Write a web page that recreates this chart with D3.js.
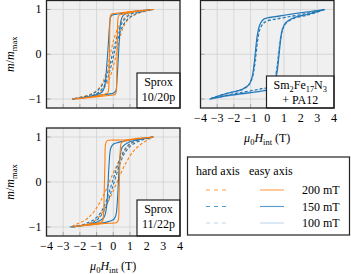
<!DOCTYPE html>
<html>
<head>
<meta charset="utf-8">
<script src="https://cdn.jsdelivr.net/npm/d3@7.9.0/dist/d3.min.js"></script>
<style>
  body { margin: 0; background: #fff; }
  svg text { font-family: "Liberation Serif", "DejaVu Serif", "Times New Roman", serif; }
</style>
</head>
<body>
<svg id="chart" width="351" height="274" font-family="Liberation Serif, DejaVu Serif, serif"></svg>
<script>
// tick values
const xTicks = [-4, -3, -2, -1, 0, 1, 2, 3, 4];
const yTicks = [-1, 0, 1];
const fieldLabels = ["200 mT", "150 mT", "100 mT"];

// loops: [mu0 H_int (T), m/m_max], down branch then up branch
const sprox1020Easy200 = [[2.4, 1.0], [1.5, 0.97], [0.8, 0.94], [0.3, 0.92], [0.0, 0.91], [-0.14, 0.89], [-0.19, 0.8], [-0.21, 0.4], [-0.23, 0.0], [-0.25, -0.4], [-0.27, -0.75], [-0.33, -0.86], [-0.6, -0.9], [-1.3, -0.95], [-2.45, -1.0],
  [-1.5, -0.97], [-0.8, -0.94], [-0.3, -0.92], [0.0, -0.91], [0.14, -0.89], [0.19, -0.8], [0.21, -0.4], [0.23, 0.0], [0.25, 0.4], [0.27, 0.75], [0.33, 0.86], [0.6, 0.9], [1.3, 0.95], [2.4, 1.0]];
const sprox1020Easy150 = [[2.4, 1.0], [1.5, 0.97], [0.8, 0.93], [0.3, 0.9], [0.0, 0.88], [-0.15, 0.84], [-0.22, 0.65], [-0.3, 0.2], [-0.4, -0.3], [-0.5, -0.68], [-0.65, -0.84], [-1.0, -0.9], [-1.6, -0.95], [-2.45, -1.0],
  [-1.6, -0.96], [-0.9, -0.92], [-0.3, -0.89], [0.0, -0.87], [0.15, -0.82], [0.22, -0.6], [0.3, -0.1], [0.38, 0.4], [0.46, 0.75], [0.6, 0.87], [1.0, 0.93], [1.6, 0.97], [2.4, 1.0]];
const sprox1020Hard200 = [[2.4, 1.0], [1.6, 0.96], [1.0, 0.9], [0.6, 0.78], [0.3, 0.6], [0.05, 0.35], [-0.15, 0.05], [-0.35, -0.3], [-0.6, -0.6], [-0.9, -0.78], [-1.4, -0.9], [-2.45, -1.0],
  [-1.6, -0.96], [-1.0, -0.9], [-0.6, -0.78], [-0.3, -0.6], [-0.05, -0.35], [0.15, -0.05], [0.35, 0.3], [0.6, 0.6], [0.9, 0.78], [1.4, 0.9], [2.4, 1.0]];
const sprox1020Hard150 = [[2.4, 1.0], [1.6, 0.96], [1.0, 0.88], [0.6, 0.74], [0.35, 0.55], [0.15, 0.3], [-0.05, 0.0], [-0.25, -0.3], [-0.5, -0.58], [-0.85, -0.78], [-1.4, -0.91], [-2.45, -1.0],
  [-1.6, -0.96], [-1.0, -0.88], [-0.6, -0.74], [-0.35, -0.55], [-0.15, -0.3], [0.05, 0.0], [0.25, 0.3], [0.5, 0.58], [0.85, 0.78], [1.4, 0.91], [2.4, 1.0]];

const smfeEasy150 = [[3.45, 1.0], [2.5, 0.95], [1.5, 0.9], [0.5, 0.84], [0.0, 0.81], [-0.25, 0.77], [-0.45, 0.66], [-0.6, 0.42], [-0.7, 0.1], [-0.8, -0.25], [-0.92, -0.52], [-1.1, -0.68], [-1.5, -0.78], [-2.5, -0.88], [-3.45, -1.0],
  [-2.5, -0.93], [-1.5, -0.88], [-0.5, -0.83], [0.0, -0.8], [0.25, -0.75], [0.45, -0.62], [0.6, -0.38], [0.7, -0.05], [0.8, 0.3], [0.92, 0.56], [1.1, 0.7], [1.5, 0.8], [2.5, 0.9], [3.45, 1.0]];
const smfeEasy100 = [[3.45, 1.0], [2.5, 0.95], [1.5, 0.9], [0.5, 0.85], [0.0, 0.82], [-0.25, 0.78], [-0.43, 0.67], [-0.57, 0.42], [-0.67, 0.1], [-0.77, -0.25], [-0.9, -0.53], [-1.1, -0.69], [-1.5, -0.79], [-2.5, -0.89], [-3.45, -1.0],
  [-2.5, -0.94], [-1.5, -0.89], [-0.5, -0.84], [0.0, -0.81], [0.25, -0.76], [0.43, -0.63], [0.57, -0.38], [0.67, -0.05], [0.77, 0.3], [0.9, 0.57], [1.1, 0.71], [1.5, 0.81], [2.5, 0.91], [3.45, 1.0]];
const smfeHard150 = [[3.45, 1.0], [2.5, 0.92], [1.5, 0.85], [0.5, 0.78], [0.0, 0.74], [-0.25, 0.68], [-0.45, 0.55], [-0.58, 0.3], [-0.68, 0.0], [-0.78, -0.3], [-0.92, -0.55], [-1.15, -0.7], [-1.6, -0.8], [-2.5, -0.88], [-3.45, -1.0],
  [-2.5, -0.92], [-1.5, -0.85], [-0.5, -0.78], [0.0, -0.74], [0.25, -0.68], [0.45, -0.55], [0.58, -0.3], [0.68, 0.0], [0.78, 0.3], [0.92, 0.55], [1.15, 0.7], [1.6, 0.8], [2.5, 0.88], [3.45, 1.0]];
const smfeHard100 = [[3.45, 1.0], [2.5, 0.93], [1.5, 0.86], [0.5, 0.8], [0.0, 0.76], [-0.25, 0.7], [-0.43, 0.57], [-0.56, 0.32], [-0.65, 0.0], [-0.75, -0.3], [-0.9, -0.56], [-1.15, -0.72], [-1.6, -0.82], [-2.5, -0.9], [-3.45, -1.0],
  [-2.5, -0.93], [-1.5, -0.86], [-0.5, -0.8], [0.0, -0.76], [0.25, -0.7], [0.43, -0.57], [0.56, -0.32], [0.65, 0.0], [0.75, 0.3], [0.9, 0.56], [1.15, 0.72], [1.6, 0.82], [2.5, 0.9], [3.45, 1.0]];

const sprox1122Easy200 = [[2.4, 1.0], [1.5, 0.97], [0.8, 0.94], [0.2, 0.93], [-0.35, 0.92], [-0.45, 0.86], [-0.5, 0.4], [-0.54, -0.2], [-0.58, -0.7], [-0.64, -0.87], [-0.9, -0.91], [-1.5, -0.94], [-2.45, -1.0],
  [-1.5, -0.96], [-0.5, -0.92], [0.2, -0.9], [0.3, -0.85], [0.34, -0.4], [0.38, 0.2], [0.42, 0.7], [0.5, 0.88], [0.9, 0.93], [1.5, 0.96], [2.4, 1.0]];
const sprox1122Easy150 = [[2.4, 1.0], [1.5, 0.96], [0.8, 0.92], [0.3, 0.88], [0.0, 0.84], [-0.15, 0.75], [-0.25, 0.4], [-0.32, -0.1], [-0.4, -0.55], [-0.55, -0.78], [-0.9, -0.88], [-1.6, -0.95], [-2.6, -1.0],
  [-1.6, -0.96], [-0.8, -0.92], [-0.3, -0.88], [0.0, -0.84], [0.15, -0.75], [0.25, -0.4], [0.32, 0.1], [0.4, 0.55], [0.55, 0.78], [0.9, 0.88], [1.6, 0.95], [2.4, 1.0]];
const sprox1122Hard200 = [[2.4, 1.0], [1.7, 0.95], [1.2, 0.88], [0.8, 0.75], [0.4, 0.5], [0.0, 0.2], [-0.4, -0.15], [-0.8, -0.45], [-1.2, -0.68], [-1.7, -0.85], [-2.45, -0.98],
  [-1.7, -0.95], [-1.2, -0.88], [-0.8, -0.75], [-0.4, -0.5], [0.0, -0.2], [0.4, 0.15], [0.8, 0.45], [1.2, 0.68], [1.7, 0.85], [2.4, 1.0]];
const sprox1122Hard150 = [[2.4, 1.0], [1.5, 0.94], [0.9, 0.82], [0.5, 0.6], [0.2, 0.3], [-0.1, -0.05], [-0.4, -0.4], [-0.7, -0.65], [-1.1, -0.82], [-1.7, -0.93], [-2.5, -1.0],
  [-1.5, -0.94], [-0.9, -0.82], [-0.5, -0.6], [-0.2, -0.3], [0.1, 0.05], [0.4, 0.4], [0.7, 0.65], [1.1, 0.82], [1.7, 0.93], [2.4, 1.0]];

const colors = { "200 mT": "#ff7f0e", "150 mT": "#1f77b4", "100 mT": "#aec7e8" };
const serif = "Liberation Serif, DejaVu Serif, serif";

const panels = [
  { left: 46.5, right: 180, top: 0.5, bottom: 108, xLabels: false, yLabels: true,
    box: { x: 137, y: 73, lines: [["Sprox"], ["10/20p"]] },
    curves: [
      { data: sprox1020Hard200, field: "200 mT", dashed: true },
      { data: sprox1020Hard150, field: "150 mT", dashed: true },
      { data: sprox1020Easy150, field: "150 mT", dashed: false },
      { data: sprox1020Easy200, field: "200 mT", dashed: false }
    ] },
  { left: 200.5, right: 334, top: 0.5, bottom: 108, xLabels: true, yLabels: false,
    box: { x: 266.5, y: 76, lines: [["Sm", "2", "Fe", "17", "N", "3"], ["+ PA12"]] },
    curves: [
      { data: smfeHard100, field: "100 mT", dashed: true },
      { data: smfeEasy100, field: "100 mT", dashed: false },
      { data: smfeHard150, field: "150 mT", dashed: true },
      { data: smfeEasy150, field: "150 mT", dashed: false }
    ] },
  { left: 46.5, right: 180, top: 128, bottom: 236, xLabels: true, yLabels: true,
    box: { x: 137, y: 200, lines: [["Sprox"], ["11/22p"]] },
    curves: [
      { data: sprox1122Hard200, field: "200 mT", dashed: true },
      { data: sprox1122Hard150, field: "150 mT", dashed: true },
      { data: sprox1122Easy150, field: "150 mT", dashed: false },
      { data: sprox1122Easy200, field: "200 mT", dashed: false }
    ] }
];

const svg = d3.select("#chart");
const fmt = (t) => (t < 0 ? "\u2212" + Math.abs(t) : String(t));

// writes text pieces, odd entries as subscripts
function subText(text, parts, size) {
  let down = false;
  parts.forEach((p, i) => {
    const sub = i % 2 === 1;
    const ts = text.append("tspan").text(p);
    if (sub) { ts.attr("dy", 3).attr("font-size", size * 0.7); down = true; }
    else if (down) { ts.attr("dy", -3); down = false; }
  });
}

panels.forEach((p, pi) => {
  const x = d3.scaleLinear().domain([-4, 4]).range([p.left, p.right]);
  const y = d3.scaleLinear().domain([-1.2, 1.2]).range([p.bottom, p.top]);
  const g = svg.append("g").attr("font-family", serif);

  g.append("rect")
    .attr("x", p.left).attr("y", p.top)
    .attr("width", p.right - p.left).attr("height", p.bottom - p.top)
    .attr("fill", "#f0f0f0");

  const clipId = "clip" + pi;
  svg.append("clipPath").attr("id", clipId).append("rect")
    .attr("x", p.left).attr("y", p.top)
    .attr("width", p.right - p.left).attr("height", p.bottom - p.top);

  // grid
  g.selectAll(".gx").data(xTicks.slice(1, -1)).join("line")
    .attr("x1", (d) => x(d)).attr("x2", (d) => x(d))
    .attr("y1", p.top).attr("y2", p.bottom)
    .attr("stroke", "#d2d2d2").attr("stroke-width", 0.8);
  g.selectAll(".gy").data(yTicks).join("line")
    .attr("x1", p.left).attr("x2", p.right)
    .attr("y1", (d) => y(d)).attr("y2", (d) => y(d))
    .attr("stroke", "#d2d2d2").attr("stroke-width", 0.8);

  // inner ticks
  g.selectAll(".tx").data(xTicks.slice(1, -1)).join("line")
    .attr("x1", (d) => x(d)).attr("x2", (d) => x(d))
    .attr("y1", p.bottom).attr("y2", p.bottom - 4)
    .attr("stroke", "#999").attr("stroke-width", 0.8);
  g.selectAll(".ty").data(yTicks).join("line")
    .attr("x1", p.left).attr("x2", p.left + 4)
    .attr("y1", (d) => y(d)).attr("y2", (d) => y(d))
    .attr("stroke", "#999").attr("stroke-width", 0.8);

  const line = d3.line()
    .x((d) => x(d[0])).y((d) => y(d[1]))
    .curve(d3.curveCatmullRom.alpha(0.5));

  const lg = g.append("g").attr("clip-path", `url(#${clipId})`);
  p.curves.forEach((c) => {
    lg.append("path")
      .attr("d", line(c.data))
      .attr("fill", "none")
      .attr("stroke", colors[c.field])
      .attr("stroke-width", 1.1)
      .attr("stroke-dasharray", c.dashed ? "3,2" : null);
  });

  // label box
  const b = p.box;
  g.append("rect")
    .attr("x", b.x).attr("y", b.y)
    .attr("width", p.right - b.x).attr("height", p.bottom - b.y)
    .attr("fill", "#fff").attr("stroke", "#222").attr("stroke-width", 1.2);
  b.lines.forEach((parts, li) => {
    const t = g.append("text")
      .attr("x", (b.x + p.right) / 2)
      .attr("y", b.y + 13 + li * 14.5)
      .attr("text-anchor", "middle")
      .attr("font-family", serif)
      .attr("font-size", 12);
    subText(t, parts, 12);
  });

  // frame
  g.append("rect")
    .attr("x", p.left).attr("y", p.top)
    .attr("width", p.right - p.left).attr("height", p.bottom - p.top)
    .attr("fill", "none").attr("stroke", "#222").attr("stroke-width", 1.3);

  if (p.yLabels) {
    g.selectAll(".yl").data(yTicks).join("text")
      .attr("x", p.left - 5).attr("y", (d) => y(d) + 4)
      .attr("text-anchor", "end").attr("font-size", 12)
      .attr("font-family", serif)
      .text(fmt);
    const yt = g.append("text")
      .attr("transform", `translate(14,${(p.top + p.bottom) / 2}) rotate(-90)`)
      .attr("text-anchor", "middle").attr("font-size", 12)
      .attr("font-family", serif);
    yt.append("tspan").attr("font-style", "italic").text("m");
    yt.append("tspan").text("/");
    yt.append("tspan").attr("font-style", "italic").text("m");
    yt.append("tspan").attr("dy", 3).attr("font-size", 8.5).text("max");
  }

  if (p.xLabels) {
    g.selectAll(".xl").data(xTicks).join("text")
      .attr("x", (d) => x(d)).attr("y", p.bottom + 14)
      .attr("text-anchor", "middle").attr("font-size", 12)
      .attr("font-family", serif)
      .text(fmt);
    const xt = g.append("text")
      .attr("x", (p.left + p.right) / 2).attr("y", p.bottom + 34)
      .attr("text-anchor", "middle").attr("font-size", 12)
      .attr("font-family", serif);
    xt.append("tspan").attr("font-style", "italic").text("\u03bc");
    xt.append("tspan").attr("dy", 3).attr("font-size", 8.5).text("0");
    xt.append("tspan").attr("dy", -3).attr("font-style", "italic").text("H");
    xt.append("tspan").attr("dy", 3).attr("font-size", 8.5).text("int");
    xt.append("tspan").attr("dy", -3).text(" (T)");
  }
});

// legend
const leg = svg.append("g").attr("font-family", serif);
leg.append("rect")
  .attr("x", 187.5).attr("y", 157).attr("width", 162).attr("height", 78)
  .attr("fill", "#fff").attr("stroke", "#222").attr("stroke-width", 1.2);
leg.append("text").attr("x", 196).attr("y", 175).attr("font-size", 12).attr("font-family", serif).text("hard axis");
leg.append("text").attr("x", 249).attr("y", 175).attr("font-size", 12).attr("font-family", serif).text("easy axis");

const rowY = d3.scalePoint().domain(fieldLabels).range([190, 223]);
fieldLabels.forEach((f) => {
  const yy = rowY(f);
  leg.append("line")
    .attr("x1", 206).attr("x2", 228).attr("y1", yy).attr("y2", yy)
    .attr("stroke", colors[f]).attr("stroke-width", 1.1)
    .attr("stroke-opacity", 0.75).attr("stroke-dasharray", "4,4");
  leg.append("line")
    .attr("x1", 260).attr("x2", 284).attr("y1", yy).attr("y2", yy)
    .attr("stroke", colors[f]).attr("stroke-width", 1.1)
    .attr("stroke-opacity", 0.75);
  leg.append("text")
    .attr("x", 302).attr("y", yy + 4)
    .attr("font-size", 12).attr("font-family", serif).text(f);
});
</script>
</body>
</html>
